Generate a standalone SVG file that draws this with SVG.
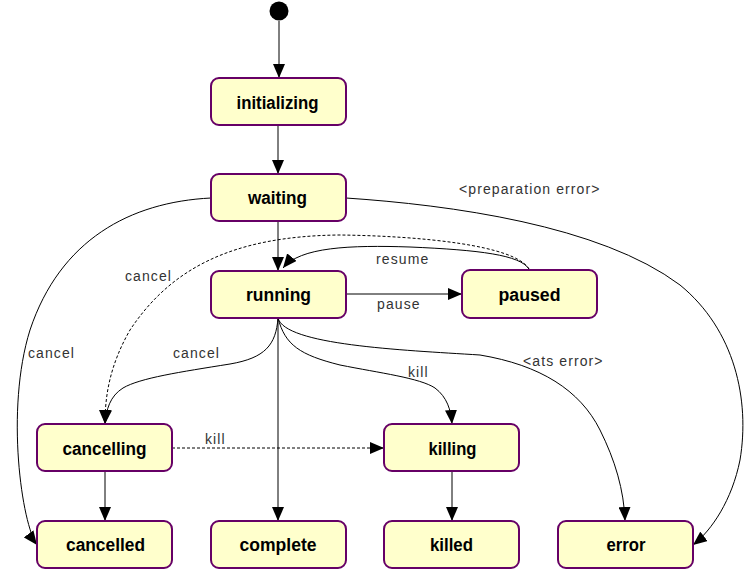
<svg xmlns="http://www.w3.org/2000/svg" width="754" height="573" viewBox="0 0 754 573">
<style>
.node rect{fill:#ffffcc;stroke:#660066;stroke-width:2}
.node text{font-family:"Liberation Sans",Arial,sans-serif;font-size:17.5px;font-weight:bold;fill:#000;text-anchor:middle}
.edge{fill:none;stroke:#000;stroke-width:1;marker-end:url(#arr)}
.dash{stroke-dasharray:3,2}
.lbl{font-family:"Liberation Sans",Arial,sans-serif;font-size:14px;fill:#333;letter-spacing:1.1px}
</style>
<defs>
<marker id="arr" viewBox="0 0 14 12" refX="14" refY="6" markerWidth="14" markerHeight="12" markerUnits="userSpaceOnUse" orient="auto">
<path d="M0,0 L14,6 L0,12 z" fill="#000"/>
</marker>
</defs>
<rect width="754" height="573" fill="#fff"/>
<g id="connectors">
<path class="edge" d="M279,21 L279,78"/>
<path class="edge" d="M278,125 L278,174"/>
<path class="edge" d="M278,221 L278,271"/>
<path class="edge" d="M346,294 L462,294"/>
<path class="edge" d="M529,269 C520,255 480,250 410,247 C350,245 300,247 283,268"/>
<path class="edge dash" d="M529,269 C515,245 420,236 340,235 C230,236 170,270 130,330 C110,365 105,395 105,424"/>
<path class="edge" d="M211,198 C130,202 60,240 30,330 C5,410 22,525 37,545"/>
<path class="edge" d="M278,318 C276,345 265,358 230,364 C180,372 140,378 123,388 C110,396 106,410 105,424"/>
<path class="edge" d="M278,318 L278,521"/>
<path class="edge" d="M278,318 C285,345 300,355 340,365 C380,373 420,378 435,388 C447,397 451,410 452,424"/>
<path class="edge" d="M278,318 C285,345 400,350 480,355 C540,365 580,390 600,430 C615,460 624,490 625,521"/>
<path class="edge" d="M346,198 C450,205 600,225 680,285 C735,330 750,400 740,460 C732,500 712,530 693,545"/>
<path class="edge dash" d="M172,448 L384,448"/>
<path class="edge" d="M105,471 L105,521"/>
<path class="edge" d="M452,471 L452,521"/>
<text class="lbl" x="459" y="194">&lt;preparation error&gt;</text>
<text class="lbl" x="376" y="264">resume</text>
<text class="lbl" x="377" y="309">pause</text>
<text class="lbl" x="125" y="281">cancel</text>
<text class="lbl" x="28" y="358">cancel</text>
<text class="lbl" x="173" y="358">cancel</text>
<text class="lbl" x="408" y="377">kill</text>
<text class="lbl" x="205" y="444">kill</text>
<text class="lbl" x="523" y="366">&lt;ats error&gt;</text>
</g>
<g id="start"><circle cx="279" cy="11" r="9.5" fill="#000"/></g>
<g id="initializing" class="node"><rect x="211" y="78" width="135" height="47" rx="8"/><text x="277.5" y="109" textLength="82" lengthAdjust="spacingAndGlyphs">initializing</text></g>
<g id="waiting" class="node"><rect x="211" y="174" width="135" height="47" rx="8"/><text x="277.5" y="204" textLength="59" lengthAdjust="spacingAndGlyphs">waiting</text></g>
<g id="running" class="node"><rect x="211" y="271" width="135" height="47" rx="8"/><text x="278.5" y="301" textLength="65" lengthAdjust="spacingAndGlyphs">running</text></g>
<g id="paused" class="node"><rect x="462" y="270" width="135" height="48" rx="8"/><text x="529.5" y="301" textLength="62" lengthAdjust="spacingAndGlyphs">paused</text></g>
<g id="cancelling" class="node"><rect x="37" y="424" width="135" height="47" rx="8"/><text x="104.5" y="455" textLength="84" lengthAdjust="spacingAndGlyphs">cancelling</text></g>
<g id="killing" class="node"><rect x="384" y="424" width="135" height="47" rx="8"/><text x="452.5" y="455" textLength="48" lengthAdjust="spacingAndGlyphs">killing</text></g>
<g id="cancelled" class="node"><rect x="37" y="521" width="135" height="47" rx="8"/><text x="105.5" y="551" textLength="79" lengthAdjust="spacingAndGlyphs">cancelled</text></g>
<g id="complete" class="node"><rect x="211" y="521" width="135" height="47" rx="8"/><text x="278" y="551" textLength="77" lengthAdjust="spacingAndGlyphs">complete</text></g>
<g id="killed" class="node"><rect x="384" y="521" width="135" height="47" rx="8"/><text x="451.5" y="551" textLength="43" lengthAdjust="spacingAndGlyphs">killed</text></g>
<g id="error" class="node"><rect x="558" y="521" width="135" height="47" rx="8"/><text x="626" y="551" textLength="39" lengthAdjust="spacingAndGlyphs">error</text></g>
</svg>
